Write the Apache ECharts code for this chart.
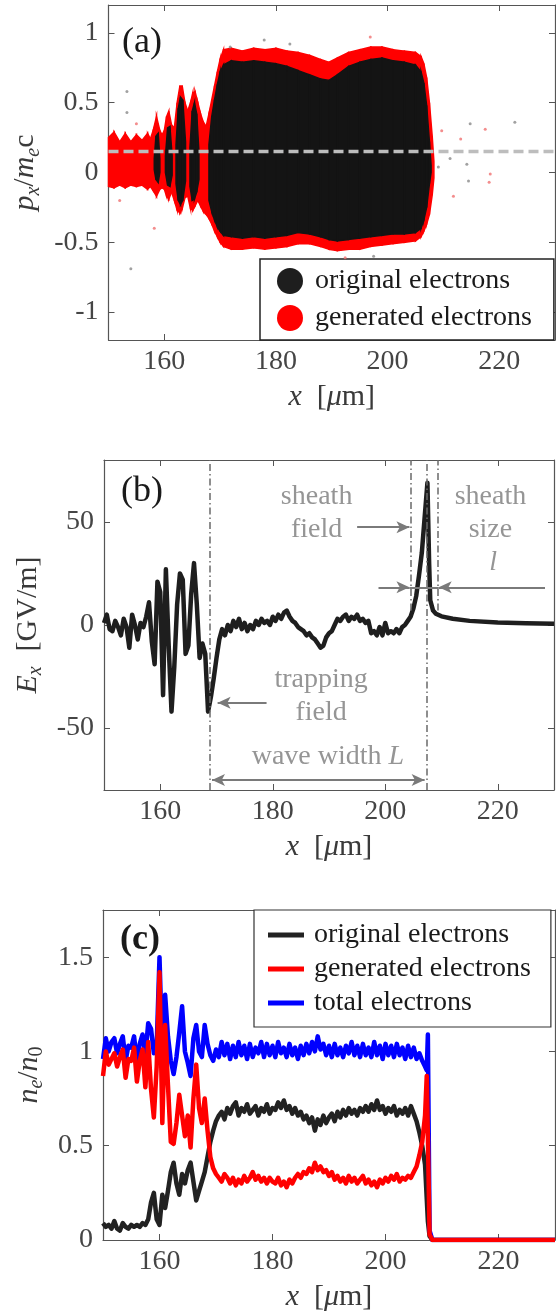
<!DOCTYPE html>
<html>
<head>
<meta charset="utf-8">
<script src="https://cdn.jsdelivr.net/npm/echarts@6/dist/echarts.min.js"></script>
<style>
  html, body { margin: 0; padding: 0; background: #fff; }
  #chart { width: 556px; height: 1316px; }
</style>
</head>
<body>
<div id="chart"></div>
<script>
// ---------- data ----------
var xTicks = [160, 180, 200, 220];
var aTicks = [-1, -0.5, 0, 0.5, 1];
var bTicks = [-50, 0, 50];
var cTicks = [0, 0.5, 1, 1.5];

// (a) phase space: outer (red) and inner (black) envelope of the particle cloud
var aRedX  = [150,151,152,153,154,155,156,157,157.5,158,158.6,159.2,159.6,160,160.4,160.8,161.3,161.8,162.3,162.8,163.2,163.7,164.2,164.7,165.1,165.5,166,166.5,167,167.5,168,168.5,169,169.5,170,170.6,172,174,176,178,180,182,184,186,188,189.5,191,193,195,197,199,201,203,205,206,206.5,207,207.5,208,208.3];
var aRedHi = [0.25,0.29,0.22,0.28,0.22,0.27,0.23,0.28,0.24,0.30,0.40,0.30,0.27,0.30,0.40,0.44,0.34,0.32,0.50,0.62,0.62,0.50,0.44,0.50,0.57,0.58,0.50,0.42,0.36,0.33,0.42,0.52,0.62,0.72,0.81,0.88,0.89,0.87,0.89,0.88,0.89,0.87,0.86,0.84,0.81,0.79,0.82,0.86,0.88,0.90,0.90,0.88,0.87,0.86,0.83,0.78,0.68,0.50,0.26,0.08];
var aRedLo = [-0.10,-0.11,-0.09,-0.11,-0.09,-0.10,-0.09,-0.12,-0.10,-0.13,-0.17,-0.12,-0.11,-0.12,-0.17,-0.19,-0.14,-0.20,-0.27,-0.29,-0.26,-0.18,-0.17,-0.26,-0.27,-0.24,-0.20,-0.24,-0.28,-0.30,-0.33,-0.37,-0.42,-0.46,-0.50,-0.53,-0.55,-0.55,-0.54,-0.55,-0.54,-0.53,-0.51,-0.51,-0.53,-0.55,-0.56,-0.55,-0.55,-0.53,-0.52,-0.51,-0.50,-0.49,-0.46,-0.42,-0.37,-0.30,-0.16,-0.04];
var aBlkX  = [158.2,158.5,158.9,159.2,159.6,160.2,160.6,161.0,161.4,161.8,162.1,162.5,162.9,163.3,163.8,164.2,164.6,165.0,165.4,165.8,166.2,167,168,168.5,169,169.5,170,170.6,172,174,176,178,180,182,184,186,188,189.5,191,193,195,197,199,201,203,205,206,206.5,207,207.5,207.8];
var aBlkHi = [0.10,0.26,0.28,0.10,null,0.12,0.32,0.33,0.12,null,0.20,0.46,0.54,0.52,0.22,null,0.18,0.44,0.50,0.42,0.15,null,0.20,0.40,0.52,0.63,0.72,0.77,0.80,0.79,0.80,0.79,0.78,0.76,0.73,0.70,0.67,0.66,0.70,0.76,0.79,0.81,0.82,0.80,0.79,0.77,0.72,0.64,0.48,0.22,0.05];
var aBlkLo = [0.02,-0.05,-0.07,0.00,null,0.00,-0.09,-0.10,-0.02,null,-0.08,-0.20,-0.23,-0.20,-0.06,null,-0.10,-0.20,-0.19,-0.14,-0.05,null,-0.20,-0.28,-0.34,-0.39,-0.42,-0.45,-0.46,-0.47,-0.46,-0.47,-0.46,-0.45,-0.43,-0.44,-0.46,-0.48,-0.49,-0.48,-0.47,-0.46,-0.45,-0.44,-0.44,-0.43,-0.40,-0.34,-0.25,-0.08,0.00];
var aDotsGray = [[153.3,0.58],[153.3,0.43],[154.0,-0.69],[177.9,0.95],[171.8,0.90],[214.8,0.35],[222.8,0.36],[211.2,0.10],[214.5,-0.06],[214.2,0.06],[209.1,0.04],[197.5,-0.60],[182.5,0.92]];
var aDotsRed  = [[158.2,-0.40],[196.9,0.97],[217.5,0.31],[213.1,0.24],[218.4,-0.01],[218.2,-0.07],[209.7,0.30],[192.4,-0.61],[211.8,-0.17],[155.0,0.35],[152.0,-0.20]];
var aLevel = 0.15;

// (b) longitudinal field Ex [GV/m]
var bX  = [150,150.5,151,151.5,152,152.5,153,153.5,154,154.5,155,155.5,156,156.5,157,157.5,158,158.5,159,159.5,160,160.5,161,161.5,162,162.5,163,163.5,164,164.5,165,165.5,166,166.5,167,167.5,168,168.5,169,169.5,170,170.5,171,171.5,172,172.5,173,173.5,174,174.5,175,175.5,176,176.5,177,177.5,178,178.5,179,179.5,180,180.5,181,181.5,182,182.5,183,183.5,184,184.5,185,185.5,186,186.5,187,187.5,188,188.5,189,189.5,190,190.5,191,191.5,192,192.5,193,193.5,194,194.5,195,195.5,196,196.5,197,197.5,198,198.5,199,199.5,200,200.5,201,201.5,202,202.5,203,203.5,204,204.5,205,205.5,206,206.5,207,207.5,207.8,208,208.5,209,210,212,215,220,225,230];
var bEx = [1,5,-2,-3,2,-1,-5,3,-1,-11,
           5,0,-7,1,-1,4,11,-8,-19,21,
           16,-34,27,-10,-42,-20,10,25,22,-14,
           -10,15,30,10,-16,-9,-14,-42,-35,-26,
           -16,-7,-2,-5,0,-3,2,-1,3,-2,
           1,-3,0,-2,2,0,3,1,2,0,
           4,2,5,3,6,7,4,2,1,-1,
           -2,-3,-5,-4,-6,-7,-9,-11,-10,-6,
           -4,-3,0,3,2,4,5,2,4,3,
           5,2,3,1,2,-4,-3,-5,-1,-5,
           1,-4,-3,-4,-2,-4,-1,0,2,4,
           8,14,24,35,52,
           69,30,12,7,5.5,4.2,3,2,1.2,0.8,0.6];
// annotation geometry in data units
var bDashX = [168.8, 204.5, 207.4, 209.3];
var bDashTop = [80, 80, 80, 80];
var bDashBottom = [-80, 7, -80, 7];
var bArrows = [ // [x0, y0, x1(tip), y1, heads]
  [195.0, 47.4, 204.3, 47.4, 0],
  [198.8, 18.3, 204.3, 18.3, 0],
  [228.4, 18.3, 209.5, 18.3, 0],
  [204.3, 18.3, 209.5, 18.3, -1],
  [178.9, -37.7, 170.2, -37.7, 0],
  [169.2, -75.2, 207.0, -75.2, 1]
];
var bNotes = [
  [187.8, 62, 'sheath'], [187.8, 46, 'field'],
  [218.7, 62, 'sheath'], [218.7, 46, 'size'], [219.2, 30, '{it|l}'],
  [188.6, -26.5, 'trapping'], [188.6, -42.5, 'field'],
  [189.8, -63.8, 'wave width {it|L}']
];

// (c) density profiles
var cX = [150,150.5,151,151.5,152,152.5,153,153.5,154,154.5,155,155.5,156,156.5,157,157.5,158,158.5,159,159.5,160,160.5,161,161.5,162,162.5,163,163.5,164,164.5,165,165.5,166,166.5,167,167.5,168,168.5,169,169.5,170,170.5,171,171.5,172,172.5,173,173.5,174,174.5,175,175.5,176,176.5,177,177.5,178,178.5,179,179.5,180,180.5,181,181.5,182,182.5,183,183.5,184,184.5,185,185.5,186,186.5,187,187.5,188,188.5,189,189.5,190,190.5,191,191.5,192,192.5,193,193.5,194,194.5,195,195.5,196,196.5,197,197.5,198,198.5,199,199.5,200,200.5,201,201.5,202,202.5,203,203.5,204,204.5,205,205.5,206,206.5,207,207.3,207.5,207.8,208.3,210,230];
var cOrig = [0.09,0.07,0.08,0.06,0.10,0.06,0.05,0.09,0.07,0.06,
             0.08,0.07,0.08,0.07,0.09,0.08,0.11,0.20,0.25,0.11,
             0.08,0.24,0.17,0.26,0.36,0.41,0.30,0.24,0.35,0.30,
             0.37,0.41,0.31,0.21,0.26,0.31,0.36,0.44,0.52,0.58,
             0.63,0.66,0.68,0.64,0.70,0.67,0.71,0.73,0.66,0.70,
             0.68,0.72,0.67,0.69,0.71,0.66,0.70,0.68,0.72,0.67,
             0.70,0.69,0.73,0.70,0.74,0.69,0.71,0.67,0.70,0.66,
             0.68,0.64,0.66,0.62,0.65,0.58,0.64,0.61,0.66,0.62,
             0.65,0.67,0.63,0.68,0.65,0.69,0.66,0.70,0.67,0.69,
             0.66,0.70,0.68,0.71,0.68,0.72,0.69,0.74,0.69,0.71,
             0.67,0.70,0.68,0.71,0.66,0.69,0.67,0.70,0.66,0.71,
             0.67,0.63,0.57,0.50,0.40,
             0.22,0.10,0.02,0,0,0];
var cGen = [0.87,1.00,0.93,0.96,0.99,0.92,0.97,1.01,0.86,0.96,
            0.95,1.02,0.84,0.95,1.01,0.81,1.05,0.80,0.65,0.92,
            1.42,0.62,1.14,0.82,0.52,0.51,0.62,0.77,0.66,0.55,
            0.66,0.49,0.75,0.93,0.70,0.62,0.75,0.58,0.44,0.38,
            0.35,0.33,0.31,0.35,0.33,0.30,0.33,0.29,0.32,0.30,
            0.34,0.31,0.33,0.36,0.32,0.34,0.31,0.33,0.30,0.33,
            0.31,0.30,0.33,0.29,0.31,0.28,0.32,0.30,0.33,0.35,
            0.33,0.36,0.35,0.38,0.36,0.41,0.37,0.39,0.36,0.37,
            0.34,0.36,0.32,0.34,0.31,0.33,0.30,0.34,0.31,0.33,
            0.30,0.32,0.34,0.30,0.32,0.29,0.31,0.28,0.32,0.30,
            0.33,0.31,0.34,0.32,0.35,0.31,0.33,0.32,0.34,0.33,
            0.36,0.39,0.45,0.52,0.66,
            0.87,0.55,0.03,0,0,0];
var cTot = [0.96,1.07,1.00,1.05,1.07,0.99,1.04,1.08,0.95,1.03,
            1.02,1.08,0.94,1.04,1.09,0.98,1.15,1.12,0.99,1.03,
            1.50,0.99,1.30,1.08,0.95,0.88,0.97,1.10,1.24,1.00,
            0.94,0.87,1.07,1.14,1.00,0.97,1.14,1.04,0.98,0.95,
            1.01,0.97,1.05,0.98,1.04,0.96,1.03,0.97,1.05,0.98,
            1.03,0.96,1.04,0.97,1.02,0.99,1.05,0.97,1.04,0.98,
            1.03,0.97,1.05,0.99,1.02,0.97,1.04,0.98,1.02,0.96,
            1.03,0.98,1.04,0.99,1.05,1.00,1.08,1.01,1.04,0.98,
            1.03,0.97,1.04,0.98,1.02,0.97,1.03,0.99,1.05,0.98,
            1.03,0.97,1.04,0.98,1.02,0.97,1.05,0.98,1.03,0.96,
            1.04,0.98,1.03,0.97,1.04,0.98,1.02,0.96,1.03,0.97,
            1.02,0.96,0.99,0.95,0.92,
            0.90,1.09,0.05,0,0,0];

// ---------- styling helpers ----------
var SERIF = 'Liberation Serif';
var AXC = '#555';
var nameRich = {
  i:  { fontFamily: SERIF, fontSize: 30, fontStyle: 'italic', color: '#3a3a3a' },
  n:  { fontFamily: SERIF, fontSize: 30, color: '#3a3a3a' },
  s:  { fontFamily: SERIF, fontSize: 20, fontStyle: 'italic', color: '#3a3a3a', padding: [16, 0, 0, 0] },
  s0: { fontFamily: SERIF, fontSize: 20, color: '#3a3a3a', padding: [16, 0, 0, 0] }
};

function xAxis(grid, bottom) {
  return {
    type: 'value', gridIndex: grid, position: bottom ? 'bottom' : 'top',
    min: 150, max: 230,
    axisLine: { show: true, onZero: false, lineStyle: { color: AXC, width: 1.2 } },
    axisTick: { show: true, inside: true, length: 6, customValues: xTicks, lineStyle: { color: AXC } },
    axisLabel: { show: bottom, customValues: xTicks, margin: 8, fontFamily: SERIF, fontSize: 28, color: '#454545' },
    splitLine: { show: false },
    name: bottom ? '{i|x}{n|  [}{i|μ}{n|m]}' : '',
    nameLocation: 'middle', nameGap: 42,
    nameTextStyle: { rich: nameRich }
  };
}
function yAxis(grid, left, min, max, ticks, name, gap) {
  return {
    type: 'value', gridIndex: grid, position: left ? 'left' : 'right',
    min: min, max: max,
    axisLine: { show: true, onZero: false, lineStyle: { color: AXC, width: 1.2 } },
    axisTick: { show: true, inside: true, length: 6, customValues: ticks, lineStyle: { color: AXC } },
    axisLabel: { show: left, customValues: ticks, margin: 10, fontFamily: SERIF, fontSize: 28, color: '#454545' },
    splitLine: { show: false },
    name: left ? name : '',
    nameLocation: 'middle', nameGap: gap, nameRotate: 90,
    nameTextStyle: { rich: nameRich }
  };
}

function band(name, xs, his, los, color, z) {
  return {
    type: 'custom', name: name, xAxisIndex: 0, yAxisIndex: 0, z: z,
    itemStyle: { color: color }, silent: true,
    data: xs.map(function (x, i) { return [x, los[i], his[i]]; }),
    encode: { x: 0, y: [1, 2] },
    renderItem: function (params, api) {
      var i = params.dataIndex;
      if (i >= xs.length - 1 || his[i] == null || his[i + 1] == null) return null;
      var pts = [
        api.coord([xs[i], his[i]]), api.coord([xs[i + 1], his[i + 1]]),
        api.coord([xs[i + 1], los[i + 1]]), api.coord([xs[i], los[i]])
      ];
      return { type: 'polygon', shape: { points: pts }, style: { fill: color, stroke: color, lineWidth: 1.5 } };
    }
  };
}

function pairs(xs, ys) { return xs.map(function (x, i) { return [x, ys[i]]; }); }

// annotation lines for (b)
var GREY = '#7a7a7a';
var markData = [];
bDashX.forEach(function (x, i) {
  var ls = { color: '#6a6a6a', width: 1.5, type: [7, 3, 1.5, 3] };
  markData.push([{ coord: [x, bDashBottom[i]], symbol: 'none', lineStyle: ls },
                 { coord: [x, bDashTop[i]], symbol: 'none', lineStyle: ls }]);
});
bArrows.forEach(function (a) {
  var ls = { color: GREY, width: 2, type: 'solid' };
  var s0 = a[4] === 1 ? 'arrow' : 'none';
  var s1 = a[4] === -1 ? 'none' : 'arrow';
  markData.push([{ coord: [a[0], a[1]], symbol: s0, lineStyle: ls },
                 { coord: [a[2], a[3]], symbol: s1, lineStyle: ls }]);
});

var annRich = {
  it: { fontFamily: SERIF, fontSize: 28, fontStyle: 'italic', color: GREY }
};

var option = {
  animation: false,
  backgroundColor: '#fff',
  textStyle: { fontFamily: SERIF },
  grid: [
    { left: 108.5, top: 5, width: 446.5, height: 335, outerBoundsMode: 'none' },
    { left: 104, top: 460, width: 450, height: 330, outerBoundsMode: 'none' },
    { left: 103, top: 910, width: 452, height: 330, outerBoundsMode: 'none' }
  ],
  xAxis: [xAxis(0, true), xAxis(0, false), xAxis(1, true), xAxis(1, false), xAxis(2, true), xAxis(2, false)],
  yAxis: [
    yAxis(0, true, -1.2, 1.2, aTicks, '{i|p}{s|x}{n|/}{i|m}{s|e}{n|c}', 58),
    yAxis(0, false, -1.2, 1.2, aTicks, '', 0),
    yAxis(1, true, -80, 80, bTicks, '{i|E}{s|x}{n|  [GV/m]}', 52),
    yAxis(1, false, -80, 80, bTicks, '', 0),
    yAxis(2, true, 0, 1.75, cTicks, '{i|n}{s|e}{n|/}{i|n}{s0|0}', 50),
    yAxis(2, false, 0, 1.75, cTicks, '', 0)
  ],
  legend: [
    {
      left: 260, top: 259, orient: 'vertical', selectedMode: false,
      data: [
        { name: 'original electrons', icon: 'circle', itemStyle: { color: '#1e1e1e' } },
        { name: 'generated electrons', icon: 'circle', itemStyle: { color: '#ff0000' } }
      ],
      itemWidth: 26, itemHeight: 26, itemGap: 9,
      padding: [8, 22, 8, 17],
      backgroundColor: '#fff', borderColor: '#222', borderWidth: 1.5, borderRadius: 0,
      textStyle: { fontFamily: SERIF, fontSize: 28, color: '#1a1a1a', padding: [0, 0, 0, 7] }
    },
    {
      left: 254, top: 910, orient: 'vertical', selectedMode: false,
      data: [
        { name: 'original electrons', icon: 'rect', itemStyle: { color: '#222' } },
        { name: 'generated electrons', icon: 'rect', itemStyle: { color: '#ff0000' } },
        { name: 'total electrons', icon: 'rect', itemStyle: { color: '#0000ff' } }
      ],
      itemWidth: 36, itemHeight: 5, itemGap: 6,
      padding: [11, 20, 10, 14],
      backgroundColor: '#fff', borderColor: '#333', borderWidth: 1.2, borderRadius: 0,
      textStyle: { fontFamily: SERIF, fontSize: 28, color: '#1a1a1a', padding: [0, 0, 0, 5] }
    }
  ],
  graphic: [
    { type: 'text', x: 142, y: 43, style: { text: '(a)', font: '36px "Liberation Serif"', fill: '#1a1a1a', align: 'center', verticalAlign: 'middle' } },
    { type: 'text', x: 142, y: 492, style: { text: '(b)', font: '36px "Liberation Serif"', fill: '#1a1a1a', align: 'center', verticalAlign: 'middle' } },
    { type: 'text', x: 140, y: 940, style: { text: '(c)', font: 'bold 36px "Liberation Serif"', fill: '#1a1a1a', align: 'center', verticalAlign: 'middle' } }
  ],
  series: [
    // (a)
    band('generated electrons', aRedX, aRedHi, aRedLo, '#ff0000', 2),
    band('original electrons', aBlkX, aBlkHi, aBlkLo, '#141414', 3),
    {
      type: 'scatter', xAxisIndex: 0, yAxisIndex: 0, z: 4, silent: true,
      symbolSize: 3, itemStyle: { color: '#8a8a8a' }, data: aDotsGray
    },
    {
      type: 'scatter', xAxisIndex: 0, yAxisIndex: 0, z: 4, silent: true,
      symbolSize: 3, itemStyle: { color: '#f07070' }, data: aDotsRed
    },
    {
      type: 'line', xAxisIndex: 0, yAxisIndex: 0, z: 5, silent: true, symbol: 'none',
      lineStyle: { color: '#bdbdbd', width: 3.5, type: [10, 5] },
      data: [[150, aLevel], [230, aLevel]]
    },
    // (b)
    {
      type: 'line', xAxisIndex: 2, yAxisIndex: 2, symbol: 'none', silent: true, z: 3,
      lineStyle: { color: '#1e1e1e', width: 4.5, join: 'round' },
      data: pairs(bX, bEx),
      markLine: {
        silent: true, symbolSize: [9, 13], label: { show: false },
        data: markData
      }
    },
    {
      type: 'scatter', xAxisIndex: 2, yAxisIndex: 2, silent: true, z: 6,
      symbolSize: 2, itemStyle: { color: 'rgba(0,0,0,0)' },
      data: bNotes,
      label: {
        show: true, position: 'inside', formatter: function (p) { return p.value[2]; },
        fontFamily: SERIF, fontSize: 28, color: GREY, rich: annRich
      }
    },
    // (c)
    {
      name: 'original electrons', type: 'line', xAxisIndex: 4, yAxisIndex: 4, symbol: 'none', silent: true, z: 3,
      lineStyle: { color: '#222', width: 4.5, join: 'round' }, itemStyle: { color: '#222' },
      data: pairs(cX, cOrig)
    },
    {
      name: 'total electrons', type: 'line', xAxisIndex: 4, yAxisIndex: 4, symbol: 'none', silent: true, z: 3,
      lineStyle: { color: '#0000ff', width: 4.5, join: 'round' }, itemStyle: { color: '#0000ff' },
      data: pairs(cX, cTot)
    },
    {
      name: 'generated electrons', type: 'line', xAxisIndex: 4, yAxisIndex: 4, symbol: 'none', silent: true, z: 4,
      lineStyle: { color: '#ff0000', width: 4.5, join: 'round' }, itemStyle: { color: '#ff0000' },
      data: pairs(cX, cGen)
    }
  ]
};

var chart = echarts.init(document.getElementById('chart'), null, { renderer: 'canvas' });
chart.setOption(option);
</script>
</body>
</html>
